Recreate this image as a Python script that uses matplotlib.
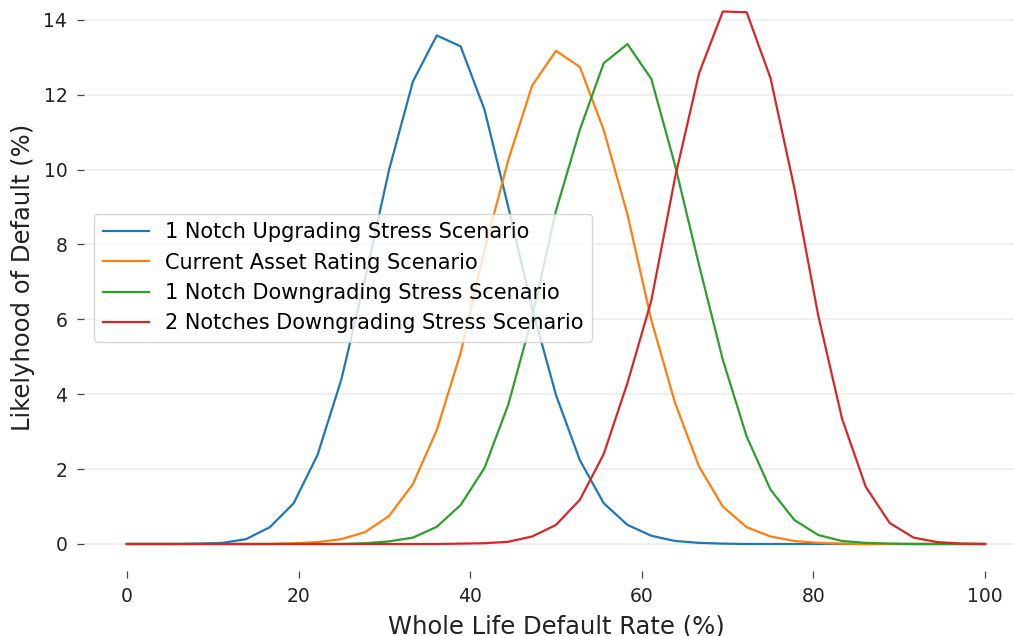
import matplotlib
matplotlib.use("Agg")
import matplotlib.pyplot as plt

# whole life default rate grid (%)
rates = [0, 2.78, 5.56, 8.33, 11.11, 13.89, 16.67, 19.44, 22.22, 25.0,
         27.78, 30.56, 33.33, 36.11, 38.89, 41.67, 44.44, 47.22, 50.0,
         52.78, 55.56, 58.33, 61.11, 63.89, 66.67, 69.44, 72.22, 75.0,
         77.78, 80.56, 83.33, 86.11, 88.89, 91.67, 94.44, 97.22, 100]

up_1 = [0, 0, 0, 0.01, 0.03, 0.13, 0.45, 1.09, 2.38, 4.4, 7.1, 10.0, 12.35,
        13.58, 13.29, 11.6, 9.0, 6.3, 3.98, 2.24, 1.09, 0.51, 0.22, 0.08,
        0.03, 0.01, 0, 0, 0, 0, 0, 0, 0, 0, 0, 0, 0]
current = [0, 0, 0, 0, 0, 0, 0, 0.02, 0.05, 0.13, 0.32, 0.75, 1.6, 3.04,
           5.1, 7.85, 10.25, 12.24, 13.17, 12.74, 11.06, 8.8, 5.98, 3.76,
           2.07, 1.0, 0.45, 0.2, 0.08, 0.03, 0.01, 0, 0, 0, 0, 0, 0]
down_1 = [0, 0, 0, 0, 0, 0, 0, 0, 0, 0, 0.02, 0.07, 0.17, 0.46, 1.04, 2.03,
          3.72, 6.05, 8.9, 11.06, 12.84, 13.35, 12.42, 10.1, 7.45, 4.92,
          2.87, 1.45, 0.64, 0.24, 0.08, 0.03, 0.01, 0, 0, 0, 0]
down_2 = [0, 0, 0, 0, 0, 0, 0, 0, 0, 0, 0, 0, 0, 0, 0.01, 0.02, 0.06, 0.2,
          0.51, 1.18, 2.4, 4.3, 6.5, 9.8, 12.57, 14.22, 14.2, 12.44, 9.5,
          6.1, 3.35, 1.52, 0.56, 0.17, 0.05, 0.01, 0]

labels = ["1 Notch Upgrading Stress Scenario",
          "Current Asset Rating Scenario",
          "1 Notch Downgrading Stress Scenario",
          "2 Notches Downgrading Stress Scenario"]

fig = plt.figure(figsize=(10.14, 6.36), dpi=100)
ax = fig.add_axes([0.0828, 0.1028, 0.931, 0.921])

for series, label in zip([up_1, current, down_1, down_2], labels):
    ax.plot(rates, series, linewidth=1.6, label=label)

ax.set_xticks([0, 20, 40, 60, 80, 100])
ax.set_yticks([0, 2, 4, 6, 8, 10, 12, 14])
ax.grid(axis="y", color="#efefef", linewidth=1.4)
ax.set_axisbelow(True)
for s in ax.spines.values():
    s.set_visible(False)
ax.tick_params(labelsize=13.5, length=5, width=0.9, pad=7,
               color="#444444", labelcolor="#222222")
ax.set_xlabel("Whole Life Default Rate (%)", fontsize=17.5, color="#222222",
              labelpad=6)
ax.set_ylabel("Likelyhood of Default (%)", fontsize=17.5, color="#222222",
              labelpad=6)
ax.legend(loc="center left", fontsize=15, handlelength=2.2, framealpha=0.8)

plt.savefig("out.png", dpi=100)
